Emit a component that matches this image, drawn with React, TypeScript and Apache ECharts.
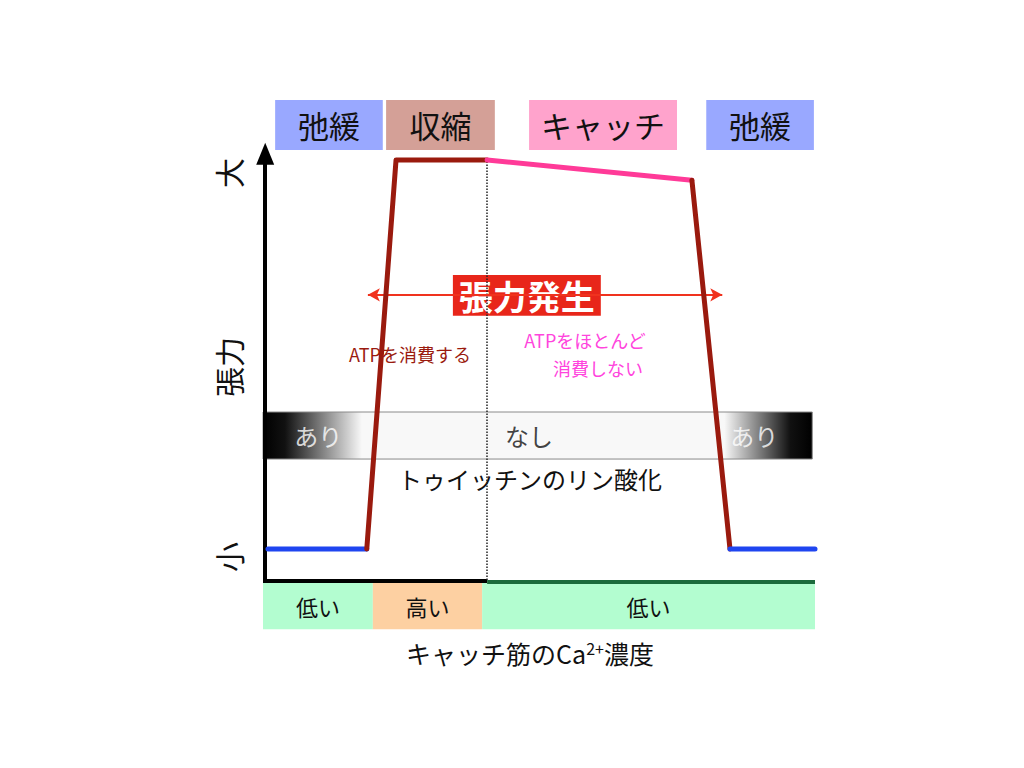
import React, { useEffect, useRef } from "react";
import * as echarts from "echarts";

// ---- data ----
const phaseLabels = ["弛緩", "収縮", "キャッチ", "弛緩"];
const phaseStart = [2.2, 22.3, 48.2, 80.3];
const phaseEnd = [21.7, 42.0, 75.0, 99.8];

const caLabels = ["低い", "高い", "低い"];
const caEdges = [0, 19.9, 39.7, 100];

const twitchinLabels = ["あり", "なし", "あり"];

// tension curve segments: [x, y]
const restBefore = [[0.9, 7.4], [18.8, 7.4]];
const contraction = [[18.8, 7.4], [24.1, 100], [40.6, 100]];
const catchPhase = [[40.6, 100], [77.7, 95.2]];
const relaxation = [[77.7, 95.2], [84.6, 7.4]];
const restAfter = [[84.6, 7.4], [100, 7.4]];

const catchStartX = 40.6;
const tensionArrow = [19.0, 83.2];
const tensionArrowY = 67.9;

// ---- styles ----
const FONT = "'Noto Sans CJK JP', 'Noto Sans', sans-serif";
const phaseColors = ["#99a8ff", "#d4a097", "#ffa3cc", "#99a8ff"];
const caColors = ["#b3fdd0", "#fdd0a2", "#b3fdd0"];
const BLUE = "#1f45f0";
const DARKRED = "#9a1a0e";
const PINK = "#ff3a98";

export default function App() {
  const ref = useRef<HTMLDivElement>(null);
  useEffect(() => {
    if (!ref.current) return;
    const chart = echarts.init(ref.current, null, { renderer: "svg" });

    const lineSeries = (data: number[][], color: string) => ({
      type: "line",
      data,
      symbol: "none",
      z: 5,
      lineStyle: { color, width: 5, cap: "round", join: "round" },
      silent: true,
    });

    const txt = (x: number, y: number, text: string, size: number, fill: string, rotation = 0) => ({
      type: "text",
      x,
      y,
      rotation,
      z: 2,
      style: { text, font: `${size}px ${FONT}`, fill, align: "center", verticalAlign: "middle" },
    });

    const option: any = {
      animation: false,
      backgroundColor: "#ffffff",
      grid: { left: 263, right: 209, top: 97, height: 533.4 },
      xAxis: { type: "value", min: 0, max: 100, show: false },
      yAxis: { type: "value", min: -12, max: 115, show: false },
      graphic: [
        txt(228, 173, "大", 30, "#111", Math.PI / 2),
        txt(228, 367, "張力", 30, "#111", Math.PI / 2),
        txt(228, 557, "小", 30, "#111", Math.PI / 2),
        txt(530, 478, "トゥイッチンのリン酸化", 24, "#111"),
        {
          type: "text", x: 530, y: 653,
          style: {
            text: "キャッチ筋のCa{sup|2+}濃度", font: `25px ${FONT}`, fill: "#111", align: "center", verticalAlign: "middle",
            rich: { sup: { fontSize: 16, fontFamily: FONT, fill: "#111", padding: [0, 0, 10, 0] } },
          },
        },
        txt(410, 354, "ATPを消費する", 18, DARKRED),
        txt(585, 340, "ATPをほとんど", 18, "#ff44dd"),
        txt(598, 368, "消費しない", 18, "#ff44dd"),
      ],
      series: [
        // background regions
        {
          type: "line",
          data: [],
          z: 1,
          silent: true,
          markArea: {
            silent: true,
            data: [
              ...phaseLabels.map((t, i) => [
                {
                  coord: [phaseStart[i], 114.3],
                  itemStyle: { color: phaseColors[i] },
                  label: { show: true, position: "inside", formatter: t, color: "#111", fontSize: 31, fontFamily: FONT },
                },
                { coord: [phaseEnd[i], 102.4] },
              ]),
              ...caLabels.map((t, i) => [
                {
                  coord: [caEdges[i], -0.7],
                  itemStyle: { color: caColors[i] },
                  label: { show: true, position: "inside", formatter: t, color: "#111", fontSize: 22, fontFamily: FONT },
                },
                { coord: [caEdges[i + 1], -11.7] },
              ]),
              [
                {
                  coord: [0, 40],
                  itemStyle: {
                    color: new echarts.graphic.LinearGradient(0, 0, 1, 0, [
                      { offset: 0, color: "#000000" },
                      { offset: 0.04, color: "#111111" },
                      { offset: 0.18, color: "#f8f8f8" },
                      { offset: 0.84, color: "#f8f8f8" },
                      { offset: 0.96, color: "#111111" },
                      { offset: 1, color: "#000000" },
                    ]),
                    borderColor: "#8a8a8a",
                    borderWidth: 1,
                  },
                  label: { show: false },
                },
                { coord: [99.5, 28.8] },
              ],
              [
                {
                  coord: [34.4, 72.6],
                  itemStyle: { color: "#e8261a" },
                  label: { show: true, position: "inside", formatter: "張力発生", color: "#fff", fontSize: 34, fontWeight: "bold", fontFamily: FONT },
                },
                { coord: [61.2, 62.9] },
              ],
            ],
          },
        },
        // twitchin labels
        {
          type: "scatter",
          z: 3,
          silent: true,
          symbolSize: 0,
          data: [
            { value: [10, 34.4], label: { color: "#fff" }, name: twitchinLabels[0] },
            { value: [48.2, 34.4], label: { color: "#111" }, name: twitchinLabels[1] },
            { value: [89, 34.4], label: { color: "#fff" }, name: twitchinLabels[2] },
          ],
          label: { show: true, position: "inside", formatter: (p: any) => p.name, fontSize: 24, fontFamily: FONT },
        },
        // axes, arrow, dotted line
        {
          type: "line",
          data: [],
          z: 4,
          silent: true,
          markLine: {
            silent: true,
            animation: false,
            label: { show: false },
            data: [
              [
                { coord: [0.4, -0.2], symbol: "none", lineStyle: { color: "#000", width: 4, type: "solid" } },
                { coord: [0.4, 101.5], symbol: "triangle", symbolSize: [18, 22], symbolRotate: 0 },
              ],
              [
                { coord: [0, -0.2], symbol: "none", lineStyle: { color: "#000", width: 4, type: "solid" } },
                { coord: [catchStartX, -0.2], symbol: "none" },
              ],
              [
                { coord: [catchStartX, -0.4], symbol: "none", lineStyle: { color: "#1b6b3c", width: 4, type: "solid" } },
                { coord: [100, -0.4], symbol: "none" },
              ],
              [
                { coord: [catchStartX, 0], symbol: "none", lineStyle: { color: "#222", width: 1.5, type: "dotted" } },
                { coord: [catchStartX, 100], symbol: "none" },
              ],
              [
                { coord: [tensionArrow[0], tensionArrowY], symbol: "arrow", symbolSize: [10, 12], lineStyle: { color: "#f0321e", width: 2, type: "solid" } },
                { coord: [tensionArrow[1], tensionArrowY], symbol: "arrow", symbolSize: [10, 12] },
              ],
            ],
          },
        },
        lineSeries(restBefore, BLUE),
        lineSeries(contraction, DARKRED),
        lineSeries(catchPhase, PINK),
        lineSeries(relaxation, DARKRED),
        lineSeries(restAfter, BLUE),
      ],
    };
    chart.setOption(option);
    return () => chart.dispose();
  }, []);

  return (
    <div
      ref={ref}
      style={{ position: "absolute", left: 0, top: 0, width: 1024, height: 768, background: "#fff" }}
    />
  );
}
